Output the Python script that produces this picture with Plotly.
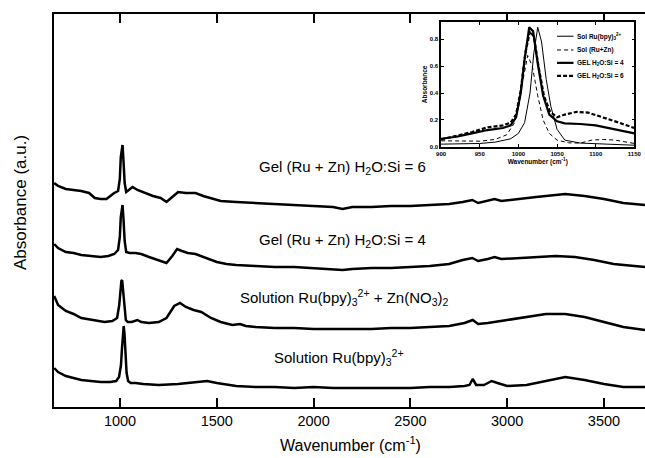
import plotly.graph_objects as go

# ---------------- main spectra (offset, arbitrary units) ----------------
wn_sol_ru = [660, 680, 720, 760, 800, 850, 900, 950, 980, 995, 1005, 1010, 1015, 1019, 1023, 1028, 1034, 1042, 1055,
             1080, 1120, 1200, 1300, 1400, 1450, 1500, 1600, 1700, 1800, 1900, 2000, 2100, 2200, 2300, 2400,
             2500, 2600, 2700, 2780, 2805, 2822, 2840, 2880, 2920, 2950, 3000, 3100, 3200, 3300, 3400,
             3500, 3600, 3712]
ab_sol_ru = [0.39, 0.35, 0.31, 0.29, 0.27, 0.26, 0.25, 0.25, 0.26, 0.30, 0.42, 0.58, 0.76, 0.81, 0.74, 0.52, 0.34, 0.26, 0.24,
             0.24, 0.23, 0.22, 0.23, 0.25, 0.26, 0.24, 0.21, 0.20, 0.20, 0.19, 0.20, 0.19, 0.19, 0.19, 0.19,
             0.19, 0.20, 0.20, 0.21, 0.22, 0.28, 0.22, 0.22, 0.26, 0.24, 0.21, 0.22, 0.26, 0.30, 0.27,
             0.23, 0.20, 0.20]

wn_sol_ruzn = [660, 680, 720, 760, 800, 830, 870, 920, 960, 985, 996, 1002, 1007, 1011, 1016, 1022, 1030, 1040, 1060,
               1090, 1110, 1150, 1200, 1240, 1280, 1310, 1340, 1380, 1420, 1470, 1520, 1580, 1620, 1650, 1700,
               1800, 1900, 2000, 2100, 2200, 2300, 2400, 2500, 2600, 2700, 2780, 2822, 2850, 2900, 3000,
               3100, 3200, 3300, 3400, 3500, 3600, 3712]
ab_sol_ruzn = [1.11, 1.02, 0.96, 0.93, 0.89, 0.88, 0.86, 0.85, 0.86, 0.89, 1.02, 1.18, 1.26, 1.27, 1.17, 0.98, 0.87, 0.85, 0.85,
               0.87, 0.85, 0.84, 0.85, 0.89, 1.01, 1.04, 1.00, 0.97, 0.95, 0.89, 0.85, 0.82, 0.83, 0.81, 0.80,
               0.79, 0.79, 0.78, 0.78, 0.78, 0.78, 0.79, 0.79, 0.80, 0.81, 0.84, 0.87, 0.83, 0.84, 0.87,
               0.90, 0.93, 0.93, 0.90, 0.85, 0.80, 0.77]

wn_gel4 = [660, 680, 720, 760, 800, 850, 900, 940, 970, 990, 999, 1004, 1009, 1013, 1018, 1024, 1032, 1050, 1080,
           1110, 1150, 1200, 1240, 1270, 1295, 1320, 1350, 1390, 1420, 1460, 1500, 1550, 1600, 1700, 1800,
           1900, 2000, 2100, 2150, 2200, 2300, 2400, 2500, 2600, 2700, 2770, 2820, 2850, 2900, 2935,
           2970, 3050, 3150, 3250, 3350, 3450, 3550, 3650, 3712]
ab_gel4 = [1.63, 1.59, 1.55, 1.54, 1.52, 1.51, 1.50, 1.51, 1.53, 1.57, 1.70, 1.90, 2.01, 2.02, 1.88, 1.66, 1.55, 1.54, 1.54,
           1.53, 1.50, 1.47, 1.44, 1.51, 1.58, 1.56, 1.54, 1.53, 1.51, 1.48, 1.45, 1.43, 1.42, 1.41, 1.40,
           1.40, 1.39, 1.38, 1.37, 1.38, 1.39, 1.39, 1.40, 1.41, 1.43, 1.47, 1.49, 1.46, 1.48, 1.50,
           1.48, 1.49, 1.50, 1.51, 1.50, 1.47, 1.43, 1.41, 1.40]

wn_gel6 = [660, 680, 720, 760, 800, 840, 870, 900, 930, 950, 970, 990, 999, 1004, 1009, 1013, 1018, 1024, 1032, 1045,
           1065, 1090, 1130, 1170, 1210, 1240, 1270, 1300, 1340, 1390, 1430, 1470, 1520, 1600, 1700, 1800,
           1900, 2000, 2100, 2150, 2200, 2300, 2400, 2500, 2600, 2700, 2770, 2820, 2850, 2900, 2935,
           2970, 3050, 3150, 3250, 3300, 3400, 3500, 3600, 3712]
ab_gel6 = [2.24, 2.21, 2.18, 2.17, 2.16, 2.14, 2.09, 2.08, 2.08, 2.11, 2.14, 2.16, 2.28, 2.50, 2.61, 2.62, 2.46, 2.24, 2.15, 2.17,
           2.20, 2.17, 2.14, 2.11, 2.09, 2.05, 2.10, 2.15, 2.14, 2.14, 2.11, 2.09, 2.06, 2.05, 2.04, 2.03,
           2.02, 2.01, 2.00, 1.98, 2.00, 2.00, 2.01, 2.01, 2.02, 2.03, 2.05, 2.07, 2.04, 2.06, 2.08,
           2.06, 2.08, 2.10, 2.12, 2.13, 2.11, 2.08, 2.04, 2.02]

main_x_ticks = [1000, 1500, 2000, 2500, 3000, 3500]

# ---------------- inset spectra ----------------
in_wn_solru = [900, 930, 950, 970, 990, 1000, 1008, 1015, 1020, 1025, 1030, 1036, 1042, 1050, 1060, 1080, 1100, 1125, 1150]
in_ab_solru = [0.02, 0.022, 0.025, 0.035, 0.06, 0.10, 0.18, 0.40, 0.70, 0.89, 0.78, 0.50, 0.30, 0.13, 0.05, 0.028, 0.022, 0.018, 0.012]

in_wn_ruzn = [900, 930, 950, 970, 985, 995, 1001, 1006, 1012, 1018, 1025, 1032, 1040, 1050, 1065, 1080, 1095, 1110, 1125, 1150]
in_ab_ruzn = [0.045, 0.042, 0.042, 0.055, 0.09, 0.18, 0.32, 0.50, 0.68, 0.60, 0.38, 0.20, 0.10, 0.05, 0.03, 0.028, 0.05, 0.055, 0.05, 0.025]

in_wn_gel4 = [900, 920, 940, 960, 980, 990, 997, 1003, 1008, 1014, 1019, 1025, 1032, 1040, 1050, 1060, 1080, 1100, 1125, 1150]
in_ab_gel4 = [0.06, 0.075, 0.10, 0.125, 0.14, 0.16, 0.22, 0.40, 0.65, 0.89, 0.86, 0.62, 0.38, 0.24, 0.19, 0.175, 0.17, 0.16, 0.13, 0.10]

in_wn_gel6 = [900, 920, 940, 960, 980, 990, 997, 1003, 1009, 1015, 1020, 1026, 1033, 1041, 1050, 1060, 1075, 1090, 1110, 1130, 1150]
in_ab_gel6 = [0.055, 0.08, 0.11, 0.145, 0.16, 0.18, 0.24, 0.42, 0.70, 0.86, 0.82, 0.60, 0.38, 0.26, 0.22, 0.24, 0.26, 0.255, 0.22, 0.18, 0.14]

in_x_ticks = [900, 950, 1000, 1050, 1100, 1150]
in_y_ticks = [0.0, 0.2, 0.4, 0.6, 0.8]
in_y_labels = ["0.0", "0.2", "0.4", "0.6", "0.8"]

FONT = "Liberation Sans, Arial, sans-serif"

fig = go.Figure()

for wx, ay in [(wn_sol_ru, ab_sol_ru), (wn_sol_ruzn, ab_sol_ruzn), (wn_gel4, ab_gel4), (wn_gel6, ab_gel6)]:
    fig.add_trace(go.Scatter(x=wx, y=ay, mode="lines", line=dict(color="black", width=2.5),
                             showlegend=False, xaxis="x", yaxis="y"))

inset_series = [
    (in_wn_solru, in_ab_solru, dict(color="black", width=1, dash="solid")),
    (in_wn_ruzn, in_ab_ruzn, dict(color="black", width=1, dash="4px,3px")),
    (in_wn_gel4, in_ab_gel4, dict(color="black", width=2.2, dash="solid")),
    (in_wn_gel6, in_ab_gel6, dict(color="black", width=2.2, dash="4px,2px")),
]
for wx, ay, ln in inset_series:
    fig.add_trace(go.Scatter(x=wx, y=ay, mode="lines", line=ln, showlegend=False,
                             xaxis="x2", yaxis="y2"))

# manual inset legend
legend_labels = ["Sol Ru(bpy)<sub>3</sub><sup>2+</sup>", "Sol (Ru+Zn)",
                 "GEL H<sub>2</sub>O:Si = 4", "GEL H<sub>2</sub>O:Si = 6"]
legend_rows = [0.885, 0.775, 0.672, 0.568]
shapes = []
annotations = []
for (wx, ay, ln), lab, ry in zip(inset_series, legend_labels, legend_rows):
    shapes.append(dict(type="line", xref="x2 domain", yref="y2 domain", x0=0.60, x1=0.685, y0=ry, y1=ry,
                       line=dict(color="black", width=ln["width"], dash=ln["dash"])))
    annotations.append(dict(xref="x2 domain", yref="y2 domain", x=0.695, y=ry, text=lab, showarrow=False,
                            xanchor="left", yanchor="middle",
                            font=dict(family=FONT, size=6.5, color="black", weight="bold")))

# curve labels
curve_labels = [
    ("Gel (Ru + Zn) H<sub>2</sub>O:Si = 6", 2150, 2.40),
    ("Gel (Ru + Zn) H<sub>2</sub>O:Si = 4", 2150, 1.67),
    ("Solution Ru(bpy)<sub>3</sub><sup>2+</sup> + Zn(NO<sub>3</sub>)<sub>2</sub>", 2160, 1.10),
    ("Solution Ru(bpy)<sub>3</sub><sup>2+</sup>", 2130, 0.50),
]
for txt, cx, cy in curve_labels:
    annotations.append(dict(x=cx, y=cy, xref="x", yref="y", text=txt, showarrow=False,
                            xanchor="center", yanchor="middle",
                            font=dict(family=FONT, size=15, color="black")))

# main axis titles (placed as paper annotations)
annotations.append(dict(xref="paper", yref="paper", x=0.501, y=-0.093, text="Wavenumber (cm<sup>-1</sup>)",
                        showarrow=False, xanchor="center", yanchor="middle",
                        font=dict(family=FONT, size=16, color="black")))
annotations.append(dict(xref="paper", yref="paper", x=-0.0575, y=0.519, text="Absorbance (a.u.)",
                        showarrow=False, xanchor="center", yanchor="middle", textangle=-90,
                        font=dict(family=FONT, size=17, color="black")))

fig.update_layout(
    width=645, height=458,
    margin=dict(l=54, r=0, t=14, b=51, autoexpand=False),
    paper_bgcolor="white", plot_bgcolor="white",
    font=dict(family=FONT, color="black"),
    showlegend=False,
    shapes=shapes,
    annotations=annotations,
    xaxis=dict(range=[659, 3712], domain=[0, 1], tickvals=main_x_ticks, automargin=False,
               ticktext=[str(v) for v in main_x_ticks],
               ticks="inside", ticklen=9, tickwidth=1.5, tickcolor="black",
               showline=True, linecolor="black", linewidth=2, mirror="allticks",
               showgrid=False, zeroline=False,
               tickfont=dict(family=FONT, size=14.5, color="black")),
    yaxis=dict(range=[0, 3.93], domain=[0, 1], showticklabels=False, ticks="", automargin=False,
               showline=True, linecolor="black", linewidth=2, mirror=False,
               showgrid=False, zeroline=False),
    xaxis2=dict(range=[900, 1150], domain=[0.655, 0.982], anchor="y2", tickvals=in_x_ticks, automargin=False,
                ticktext=[str(v) for v in in_x_ticks],
                ticks="inside", ticklen=3, tickwidth=1, tickcolor="black",
                showline=True, linecolor="black", linewidth=1.5, mirror="allticks",
                showgrid=False, zeroline=False,
                tickfont=dict(family=FONT, size=6, color="black", weight="bold"),
                title=dict(text="Wavenumber (cm<sup>-1</sup>)",
                           font=dict(family=FONT, size=6.5, color="black", weight="bold"), standoff=2)),
    yaxis2=dict(range=[0, 0.93], domain=[0.662, 0.980], anchor="x2", tickvals=in_y_ticks, automargin=False,
                ticktext=in_y_labels,
                ticks="inside", ticklen=3, tickwidth=1, tickcolor="black",
                showline=True, linecolor="black", linewidth=1.5, mirror="allticks",
                showgrid=False, zeroline=False,
                tickfont=dict(family=FONT, size=6, color="black", weight="bold"),
                title=dict(text="Absorbance", font=dict(family=FONT, size=6.5, color="black", weight="bold"),
                           standoff=2)),
)

fig.write_html("out.html", config={"displayModeBar": False},
               post_script="document.body.style.margin='0px';document.body.style.overflow='hidden';")
